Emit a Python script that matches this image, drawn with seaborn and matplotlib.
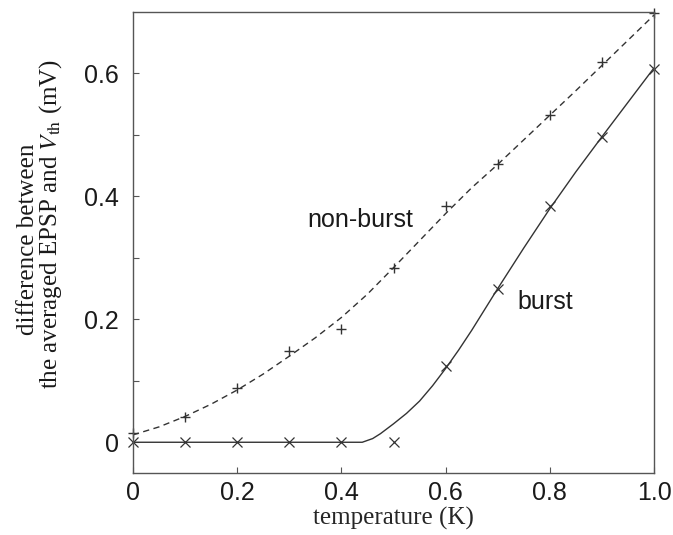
import numpy as np
import pandas as pd
import matplotlib
matplotlib.use("Agg")
import matplotlib.pyplot as plt
import seaborn as sns
from matplotlib.ticker import FixedLocator

# ---- data ----
temperature = [0.0, 0.1, 0.2, 0.3, 0.4, 0.5, 0.6, 0.7, 0.8, 0.9, 1.0]
nonburst_pts = [0.015, 0.041, 0.088, 0.148, 0.184, 0.284, 0.384, 0.452, 0.533, 0.618, 0.698]
burst_pts = [0.0, 0.0, 0.0, 0.0, 0.0, 0.0, 0.124, 0.250, 0.384, 0.497, 0.608]

nonburst_fit_t = [0.0, 0.05, 0.1, 0.15, 0.2, 0.25, 0.3, 0.35, 0.4, 0.45, 0.5, 0.55,
                  0.6, 0.65, 0.7, 0.75, 0.8, 0.85, 0.9, 0.95, 1.0]
nonburst_fit = [0.012, 0.025, 0.042, 0.062, 0.085, 0.111, 0.140, 0.170, 0.203, 0.241,
                0.284, 0.328, 0.372, 0.414, 0.452, 0.492, 0.532, 0.572, 0.613, 0.654, 0.695]
burst_fit_t = [0.0, 0.1, 0.2, 0.3, 0.4, 0.44, 0.46, 0.475, 0.5, 0.525, 0.55, 0.575,
               0.6, 0.625, 0.65, 0.7, 0.75, 0.8, 0.85, 0.9, 0.95, 1.0]
burst_fit = [0.0, 0.0, 0.0, 0.0, 0.0, 0.0, 0.006, 0.014, 0.030, 0.047, 0.067, 0.092,
             0.120, 0.150, 0.182, 0.250, 0.316, 0.380, 0.440, 0.497, 0.553, 0.609]

x_ticks = [0.0, 0.2, 0.4, 0.6, 0.8, 1.0]
x_ticklabels = ["0", "0.2", "0.4", "0.6", "0.8", "1.0"]
y_ticks = [0.0, 0.2, 0.4, 0.6]
y_ticklabels = ["0", "0.2", "0.4", "0.6"]
y_minor_ticks = [0.1, 0.3, 0.5]

sns.set_style("ticks")
plt.rcParams["font.family"] = ["Liberation Sans", "DejaVu Sans"]
plt.rcParams["mathtext.fontset"] = "stix"

col = "#333333"
fig = plt.figure(figsize=(6.73, 5.35), dpi=100)
ax = fig.add_axes([0.1976, 0.1159, 0.7742, 0.8617])

nb_df = pd.DataFrame({"t": nonburst_fit_t, "y": nonburst_fit})
b_df = pd.DataFrame({"t": burst_fit_t, "y": burst_fit})
pts_df = pd.DataFrame({"t": temperature, "nb": nonburst_pts, "b": burst_pts})

sns.lineplot(data=nb_df, x="t", y="y", ax=ax, color=col, lw=1.0,
             linestyle=(0, (4.5, 3.2)), estimator=None, sort=False)
sns.lineplot(data=b_df, x="t", y="y", ax=ax, color=col, lw=1.0,
             estimator=None, sort=False)
ax.plot(pts_df["t"], pts_df["nb"], ls="none", marker="+", ms=7, mew=1.0, color=col,
        clip_on=False)
ax.plot(pts_df["t"], pts_df["b"], ls="none", marker="x", ms=6.5, mew=0.9, color=col,
        clip_on=False)

ax.set_xlim(0, 1.0)
ax.set_ylim(-0.05, 0.70)
ax.set_xticks(x_ticks)
ax.set_xticklabels(x_ticklabels)
ax.yaxis.set_major_locator(FixedLocator(y_ticks))
ax.set_yticklabels(y_ticklabels)
ax.yaxis.set_minor_locator(FixedLocator(y_minor_ticks))
ax.tick_params(axis="both", which="both", direction="in", length=4.5, width=0.8,
               color="#555555", labelsize=18, labelcolor="#1a1a1a")
ax.tick_params(axis="x", pad=6)
ax.tick_params(axis="y", pad=10)
for s in ax.spines.values():
    s.set_visible(True)
    s.set_color("#555555")
    s.set_linewidth(1.0)

serif = ["Liberation Serif", "DejaVu Serif"]
ax.set_xlabel("temperature (K)", fontsize=18, family=serif, labelpad=1)
ax.set_ylabel("")
fig.text(0.0409, 0.5533, "difference between", rotation=90, ha="center", va="center",
         fontsize=18, family=serif, color="#1a1a1a")
fig.text(0.0758, 0.5813, "the averaged EPSP and $V_{\\mathrm{th}}$ (mV)", rotation=90,
         ha="center", va="center", fontsize=18, family=serif, color="#1a1a1a")

ax.text(0.334, 0.351, "non-burst", fontsize=18, color="#1a1a1a", va="baseline")
ax.text(0.737, 0.2175, "burst", fontsize=18, color="#1a1a1a", va="baseline")

fig.savefig("out.png", dpi=100)
